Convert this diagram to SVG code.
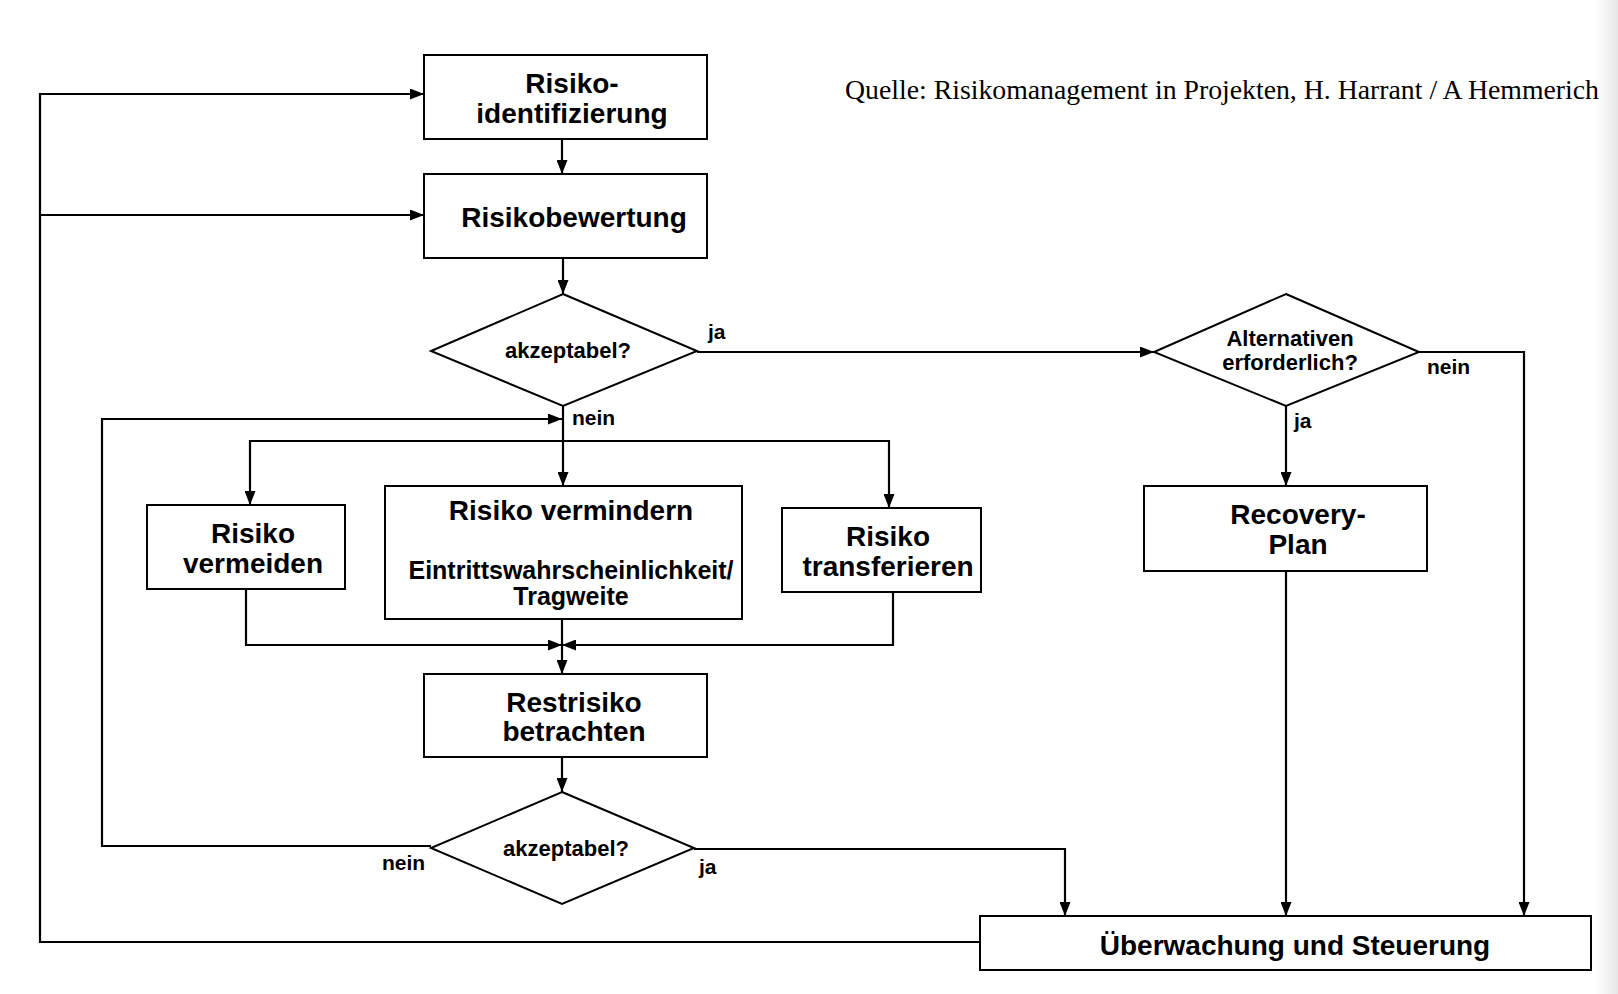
<svg xmlns="http://www.w3.org/2000/svg" width="1618" height="994" viewBox="0 0 1618 994">
<defs>
<marker id="ah" viewBox="0 0 14 11" refX="14" refY="5.5" markerWidth="14" markerHeight="11" markerUnits="userSpaceOnUse" orient="auto">
<path d="M0,0 L14,5.5 L0,11 Z" fill="#000"/>
</marker>
<linearGradient id="shade" x1="0" y1="0" x2="1" y2="0">
<stop offset="0" stop-color="#ffffff"/>
<stop offset="1" stop-color="#e6e6e6"/>
</linearGradient>
<style>
.box{fill:#fff;stroke:#000;stroke-width:2}
.ln{fill:none;stroke:#000;stroke-width:2.2}
.t{font-family:"Liberation Sans",Arial,sans-serif;font-weight:bold;fill:#000;text-anchor:middle}
.lbl{font-family:"Liberation Sans",Arial,sans-serif;font-weight:bold;fill:#000;font-size:21px}
.src{font-family:"Liberation Serif","Times New Roman",serif;fill:#000;font-size:27.5px}
</style>
</defs>
<rect width="1618" height="994" fill="#fff"/>
<rect x="1596" y="0" width="22" height="994" fill="url(#shade)"/>

<text class="src" x="845" y="99" textLength="754" lengthAdjust="spacingAndGlyphs">Quelle: Risikomanagement in Projekten, H. Harrant / A Hemmerich</text>

<g id="connectors">
<path class="ln" d="M980,942 H40 V94 H424" marker-end="url(#ah)"/>
<path class="ln" d="M40,215 H424" marker-end="url(#ah)"/>
<path class="ln" d="M562,139 V174" marker-end="url(#ah)"/>
<path class="ln" d="M563,258 V294" marker-end="url(#ah)"/>
<path class="ln" d="M697,352 H1154" marker-end="url(#ah)"/>
<path class="ln" d="M1419,352 H1524 V916" marker-end="url(#ah)"/>
<path class="ln" d="M1286,406 V486" marker-end="url(#ah)"/>
<path class="ln" d="M1286,571 V916" marker-end="url(#ah)"/>
<path class="ln" d="M563,406 V486" marker-end="url(#ah)"/>
<path class="ln" d="M431,846 H102 V419 H562" marker-end="url(#ah)"/>
<path class="ln" d="M563,441 H250 V505" marker-end="url(#ah)"/>
<path class="ln" d="M563,441 H889 V508" marker-end="url(#ah)"/>
<path class="ln" d="M246,589 V645 H562" marker-end="url(#ah)"/>
<path class="ln" d="M893,592 V645 H562" marker-end="url(#ah)"/>
<path class="ln" d="M562,619 V674" marker-end="url(#ah)"/>
<path class="ln" d="M562,757 V792" marker-end="url(#ah)"/>
<path class="ln" d="M694,849 H1065 V916" marker-end="url(#ah)"/>
<text class="lbl" x="708" y="339">ja</text>
<text class="lbl" x="572" y="425">nein</text>
<text class="lbl" x="1427" y="374">nein</text>
<text class="lbl" x="1294" y="428">ja</text>
<text class="lbl" x="382" y="870">nein</text>
<text class="lbl" x="699" y="874">ja</text>
</g>

<g id="n-identifizierung">
<rect class="box" x="424" y="55" width="283" height="84"/>
<text class="t" x="572" y="93" font-size="28">Risiko-</text>
<text class="t" x="572" y="123" font-size="28">identifizierung</text>
</g>
<g id="n-bewertung">
<rect class="box" x="424" y="174" width="283" height="84"/>
<text class="t" x="574" y="227" font-size="28">Risikobewertung</text>
</g>
<g id="n-akzeptabel1">
<polygon class="box" points="563,294 697,351 563,406 431,351"/>
<text class="t" x="568" y="358" font-size="22">akzeptabel?</text>
</g>
<g id="n-alternativen">
<polygon class="box" points="1286,294 1419,352 1286,406 1154,352"/>
<text class="t" x="1290" y="346" font-size="22">Alternativen</text>
<text class="t" x="1290" y="370" font-size="22">erforderlich?</text>
</g>
<g id="n-recovery">
<rect class="box" x="1144" y="486" width="283" height="85"/>
<text class="t" x="1298" y="524" font-size="28">Recovery-</text>
<text class="t" x="1298" y="554" font-size="28">Plan</text>
</g>
<g id="n-vermeiden">
<rect class="box" x="147" y="505" width="198" height="84"/>
<text class="t" x="253" y="543" font-size="28">Risiko</text>
<text class="t" x="253" y="573" font-size="28">vermeiden</text>
</g>
<g id="n-vermindern">
<rect class="box" x="385" y="486" width="357" height="133"/>
<text class="t" x="571" y="520" font-size="28">Risiko vermindern</text>
<text class="t" x="571" y="579" font-size="25">Eintrittswahrscheinlichkeit/</text>
<text class="t" x="571" y="605" font-size="25">Tragweite</text>
</g>
<g id="n-transferieren">
<rect class="box" x="782" y="508" width="199" height="84"/>
<text class="t" x="888" y="546" font-size="28">Risiko</text>
<text class="t" x="888" y="576" font-size="28">transferieren</text>
</g>
<g id="n-restrisiko">
<rect class="box" x="424" y="674" width="283" height="83"/>
<text class="t" x="574" y="712" font-size="28">Restrisiko</text>
<text class="t" x="574" y="741" font-size="28">betrachten</text>
</g>
<g id="n-akzeptabel2">
<polygon class="box" points="562,792 694,848 562,904 431,848"/>
<text class="t" x="566" y="856" font-size="22">akzeptabel?</text>
</g>
<g id="n-ueberwachung">
<rect class="box" x="980" y="916" width="611" height="54"/>
<text class="t" x="1295" y="955" font-size="28">Überwachung und Steuerung</text>
</g>
</svg>
